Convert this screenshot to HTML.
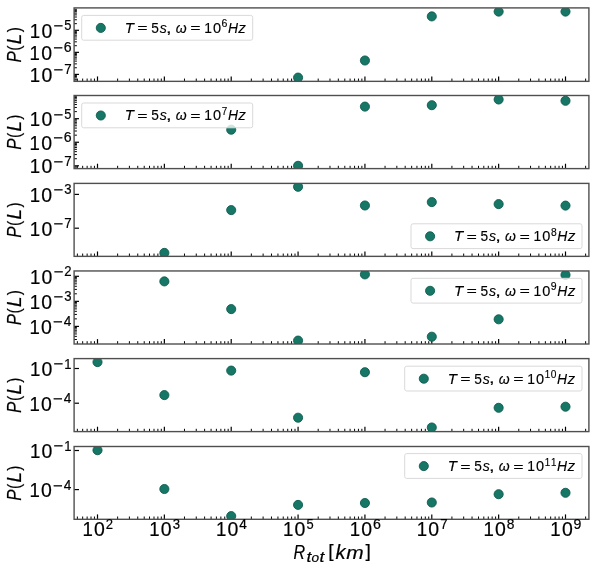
<!DOCTYPE html>
<html><head><meta charset="utf-8"><title>P(L) vs R_tot</title>
<style>
html,body{margin:0;padding:0;background:#fff;}
body{width:598px;height:570px;overflow:hidden;}
svg{display:block;}
svg text{font-family:"Liberation Sans",sans-serif;}
</style></head><body>
<svg width="598" height="570" viewBox="0 0 598 570">
<rect width="598" height="570" fill="#fff"/>
<defs><clipPath id="c0"><rect x="74.10" y="7.90" width="514.80" height="73.45"/></clipPath><clipPath id="c1"><rect x="74.10" y="95.50" width="514.80" height="73.10"/></clipPath><clipPath id="c2"><rect x="74.10" y="183.40" width="514.80" height="72.96"/></clipPath><clipPath id="c3"><rect x="74.10" y="270.96" width="514.80" height="73.04"/></clipPath><clipPath id="c4"><rect x="74.10" y="358.60" width="514.80" height="73.00"/></clipPath><clipPath id="c5"><rect x="74.10" y="446.50" width="514.80" height="72.80"/></clipPath><filter id="soft" filterUnits="userSpaceOnUse" x="0" y="0" width="598" height="570"><feGaussianBlur stdDeviation="0.45"/></filter></defs>
<g filter="url(#soft)">
<g stroke="#000"><line x1="77.37" y1="81.35" x2="77.37" y2="78.55" stroke-width="1.00"/><line x1="82.67" y1="81.35" x2="82.67" y2="78.55" stroke-width="1.00"/><line x1="87.14" y1="81.35" x2="87.14" y2="78.55" stroke-width="1.00"/><line x1="91.02" y1="81.35" x2="91.02" y2="78.55" stroke-width="1.00"/><line x1="94.44" y1="81.35" x2="94.44" y2="78.55" stroke-width="1.00"/><line x1="97.50" y1="81.35" x2="97.50" y2="76.45" stroke-width="1.20"/><line x1="117.63" y1="81.35" x2="117.63" y2="78.55" stroke-width="1.00"/><line x1="129.40" y1="81.35" x2="129.40" y2="78.55" stroke-width="1.00"/><line x1="137.75" y1="81.35" x2="137.75" y2="78.55" stroke-width="1.00"/><line x1="144.23" y1="81.35" x2="144.23" y2="78.55" stroke-width="1.00"/><line x1="149.52" y1="81.35" x2="149.52" y2="78.55" stroke-width="1.00"/><line x1="154.00" y1="81.35" x2="154.00" y2="78.55" stroke-width="1.00"/><line x1="157.88" y1="81.35" x2="157.88" y2="78.55" stroke-width="1.00"/><line x1="161.30" y1="81.35" x2="161.30" y2="78.55" stroke-width="1.00"/><line x1="164.36" y1="81.35" x2="164.36" y2="76.45" stroke-width="1.20"/><line x1="184.48" y1="81.35" x2="184.48" y2="78.55" stroke-width="1.00"/><line x1="196.26" y1="81.35" x2="196.26" y2="78.55" stroke-width="1.00"/><line x1="204.61" y1="81.35" x2="204.61" y2="78.55" stroke-width="1.00"/><line x1="211.09" y1="81.35" x2="211.09" y2="78.55" stroke-width="1.00"/><line x1="216.38" y1="81.35" x2="216.38" y2="78.55" stroke-width="1.00"/><line x1="220.86" y1="81.35" x2="220.86" y2="78.55" stroke-width="1.00"/><line x1="224.74" y1="81.35" x2="224.74" y2="78.55" stroke-width="1.00"/><line x1="228.16" y1="81.35" x2="228.16" y2="78.55" stroke-width="1.00"/><line x1="231.21" y1="81.35" x2="231.21" y2="76.45" stroke-width="1.20"/><line x1="251.34" y1="81.35" x2="251.34" y2="78.55" stroke-width="1.00"/><line x1="263.11" y1="81.35" x2="263.11" y2="78.55" stroke-width="1.00"/><line x1="271.47" y1="81.35" x2="271.47" y2="78.55" stroke-width="1.00"/><line x1="277.95" y1="81.35" x2="277.95" y2="78.55" stroke-width="1.00"/><line x1="283.24" y1="81.35" x2="283.24" y2="78.55" stroke-width="1.00"/><line x1="287.72" y1="81.35" x2="287.72" y2="78.55" stroke-width="1.00"/><line x1="291.59" y1="81.35" x2="291.59" y2="78.55" stroke-width="1.00"/><line x1="295.01" y1="81.35" x2="295.01" y2="78.55" stroke-width="1.00"/><line x1="298.07" y1="81.35" x2="298.07" y2="76.45" stroke-width="1.20"/><line x1="318.20" y1="81.35" x2="318.20" y2="78.55" stroke-width="1.00"/><line x1="329.97" y1="81.35" x2="329.97" y2="78.55" stroke-width="1.00"/><line x1="338.32" y1="81.35" x2="338.32" y2="78.55" stroke-width="1.00"/><line x1="344.80" y1="81.35" x2="344.80" y2="78.55" stroke-width="1.00"/><line x1="350.10" y1="81.35" x2="350.10" y2="78.55" stroke-width="1.00"/><line x1="354.57" y1="81.35" x2="354.57" y2="78.55" stroke-width="1.00"/><line x1="358.45" y1="81.35" x2="358.45" y2="78.55" stroke-width="1.00"/><line x1="361.87" y1="81.35" x2="361.87" y2="78.55" stroke-width="1.00"/><line x1="364.93" y1="81.35" x2="364.93" y2="76.45" stroke-width="1.20"/><line x1="385.05" y1="81.35" x2="385.05" y2="78.55" stroke-width="1.00"/><line x1="396.83" y1="81.35" x2="396.83" y2="78.55" stroke-width="1.00"/><line x1="405.18" y1="81.35" x2="405.18" y2="78.55" stroke-width="1.00"/><line x1="411.66" y1="81.35" x2="411.66" y2="78.55" stroke-width="1.00"/><line x1="416.95" y1="81.35" x2="416.95" y2="78.55" stroke-width="1.00"/><line x1="421.43" y1="81.35" x2="421.43" y2="78.55" stroke-width="1.00"/><line x1="425.31" y1="81.35" x2="425.31" y2="78.55" stroke-width="1.00"/><line x1="428.73" y1="81.35" x2="428.73" y2="78.55" stroke-width="1.00"/><line x1="431.79" y1="81.35" x2="431.79" y2="76.45" stroke-width="1.20"/><line x1="451.91" y1="81.35" x2="451.91" y2="78.55" stroke-width="1.00"/><line x1="463.68" y1="81.35" x2="463.68" y2="78.55" stroke-width="1.00"/><line x1="472.04" y1="81.35" x2="472.04" y2="78.55" stroke-width="1.00"/><line x1="478.52" y1="81.35" x2="478.52" y2="78.55" stroke-width="1.00"/><line x1="483.81" y1="81.35" x2="483.81" y2="78.55" stroke-width="1.00"/><line x1="488.29" y1="81.35" x2="488.29" y2="78.55" stroke-width="1.00"/><line x1="492.16" y1="81.35" x2="492.16" y2="78.55" stroke-width="1.00"/><line x1="495.58" y1="81.35" x2="495.58" y2="78.55" stroke-width="1.00"/><line x1="498.64" y1="81.35" x2="498.64" y2="76.45" stroke-width="1.20"/><line x1="518.77" y1="81.35" x2="518.77" y2="78.55" stroke-width="1.00"/><line x1="530.54" y1="81.35" x2="530.54" y2="78.55" stroke-width="1.00"/><line x1="538.89" y1="81.35" x2="538.89" y2="78.55" stroke-width="1.00"/><line x1="545.37" y1="81.35" x2="545.37" y2="78.55" stroke-width="1.00"/><line x1="550.67" y1="81.35" x2="550.67" y2="78.55" stroke-width="1.00"/><line x1="555.14" y1="81.35" x2="555.14" y2="78.55" stroke-width="1.00"/><line x1="559.02" y1="81.35" x2="559.02" y2="78.55" stroke-width="1.00"/><line x1="562.44" y1="81.35" x2="562.44" y2="78.55" stroke-width="1.00"/><line x1="565.50" y1="81.35" x2="565.50" y2="76.45" stroke-width="1.20"/><line x1="585.63" y1="81.35" x2="585.63" y2="78.55" stroke-width="1.00"/><line x1="74.10" y1="30.30" x2="79.00" y2="30.30" stroke-width="1.20"/><line x1="74.10" y1="52.35" x2="79.00" y2="52.35" stroke-width="1.20"/><line x1="74.10" y1="74.40" x2="79.00" y2="74.40" stroke-width="1.20"/><line x1="74.10" y1="81.04" x2="76.90" y2="81.04" stroke-width="1.00"/><line x1="74.10" y1="79.29" x2="76.90" y2="79.29" stroke-width="1.00"/><line x1="74.10" y1="77.82" x2="76.90" y2="77.82" stroke-width="1.00"/><line x1="74.10" y1="76.54" x2="76.90" y2="76.54" stroke-width="1.00"/><line x1="74.10" y1="75.41" x2="76.90" y2="75.41" stroke-width="1.00"/><line x1="74.10" y1="67.76" x2="76.90" y2="67.76" stroke-width="1.00"/><line x1="74.10" y1="63.88" x2="76.90" y2="63.88" stroke-width="1.00"/><line x1="74.10" y1="61.12" x2="76.90" y2="61.12" stroke-width="1.00"/><line x1="74.10" y1="58.99" x2="76.90" y2="58.99" stroke-width="1.00"/><line x1="74.10" y1="57.24" x2="76.90" y2="57.24" stroke-width="1.00"/><line x1="74.10" y1="55.77" x2="76.90" y2="55.77" stroke-width="1.00"/><line x1="74.10" y1="54.49" x2="76.90" y2="54.49" stroke-width="1.00"/><line x1="74.10" y1="53.36" x2="76.90" y2="53.36" stroke-width="1.00"/><line x1="74.10" y1="45.71" x2="76.90" y2="45.71" stroke-width="1.00"/><line x1="74.10" y1="41.83" x2="76.90" y2="41.83" stroke-width="1.00"/><line x1="74.10" y1="39.07" x2="76.90" y2="39.07" stroke-width="1.00"/><line x1="74.10" y1="36.94" x2="76.90" y2="36.94" stroke-width="1.00"/><line x1="74.10" y1="35.19" x2="76.90" y2="35.19" stroke-width="1.00"/><line x1="74.10" y1="33.72" x2="76.90" y2="33.72" stroke-width="1.00"/><line x1="74.10" y1="32.44" x2="76.90" y2="32.44" stroke-width="1.00"/><line x1="74.10" y1="31.31" x2="76.90" y2="31.31" stroke-width="1.00"/><line x1="74.10" y1="23.66" x2="76.90" y2="23.66" stroke-width="1.00"/><line x1="74.10" y1="19.78" x2="76.90" y2="19.78" stroke-width="1.00"/><line x1="74.10" y1="17.02" x2="76.90" y2="17.02" stroke-width="1.00"/><line x1="74.10" y1="14.89" x2="76.90" y2="14.89" stroke-width="1.00"/><line x1="74.10" y1="13.14" x2="76.90" y2="13.14" stroke-width="1.00"/><line x1="74.10" y1="11.67" x2="76.90" y2="11.67" stroke-width="1.00"/><line x1="74.10" y1="10.39" x2="76.90" y2="10.39" stroke-width="1.00"/><line x1="74.10" y1="9.26" x2="76.90" y2="9.26" stroke-width="1.00"/></g>
<g clip-path="url(#c0)" fill="#157766" stroke="#0e5b4f" stroke-width="0.9">
<circle cx="298.07" cy="77.60" r="4.55"/>
<circle cx="364.93" cy="60.50" r="4.55"/>
<circle cx="431.79" cy="16.40" r="4.55"/>
<circle cx="498.64" cy="11.60" r="4.55"/>
<circle cx="565.50" cy="11.60" r="4.55"/>
</g>
<rect x="74.10" y="7.90" width="514.80" height="73.45" fill="none" stroke="#505050" stroke-width="1.40"/>
<g transform="translate(29.22 37.60)" fill="#000" stroke="#000" stroke-width="0.20" stroke-linejoin="round"><text transform="translate(0.61 0.00) scale(0.9498 0.9996)" font-size="19.61">1</text><text transform="translate(12.23 0.07) scale(0.9945 1.0078)" font-size="19.61">0</text><text transform="translate(24.27 -6.32) scale(1.2155 1.0985)" font-size="13.73">−</text><text transform="translate(35.06 -7.22) scale(0.9385 1.0048)" font-size="13.73">5</text></g>
<g transform="translate(28.90 59.65)" fill="#000" stroke="#000" stroke-width="0.20" stroke-linejoin="round"><text transform="translate(0.61 0.00) scale(0.9498 0.9996)" font-size="19.61">1</text><text transform="translate(12.23 0.07) scale(0.9945 1.0078)" font-size="19.61">0</text><text transform="translate(24.27 -6.32) scale(1.2155 1.0985)" font-size="13.73">−</text><text transform="translate(34.76 -7.23) scale(1.0293 1.0078)" font-size="13.73">6</text></g>
<g transform="translate(29.19 81.70)" fill="#000" stroke="#000" stroke-width="0.20" stroke-linejoin="round"><text transform="translate(0.61 0.00) scale(0.9498 0.9996)" font-size="19.61">1</text><text transform="translate(12.23 0.07) scale(0.9945 1.0078)" font-size="19.61">0</text><text transform="translate(24.27 -6.32) scale(1.2155 1.0985)" font-size="13.73">−</text><text transform="translate(34.95 -7.27) scale(0.9728 0.9996)" font-size="13.73">7</text></g>
<g transform="translate(21.20 62.43) rotate(-90)" fill="#000" stroke="#000" stroke-width="0.20" stroke-linejoin="round"><text transform="translate(-0.02 0.00) scale(0.8600 0.9996)" font-size="19.61" font-style="italic">P</text><text transform="translate(11.78 -1.22) scale(0.7975 0.9019)" font-size="19.61">(</text><text transform="translate(18.28 0.00) scale(0.9737 0.9996)" font-size="19.61" font-style="italic">L</text><text transform="translate(30.07 -1.22) scale(0.7975 0.9019)" font-size="19.61">)</text></g>
<rect x="81.70" y="15.40" width="171.00" height="24.80" rx="2.0" ry="2.0" fill="#fff" fill-opacity="0.8" stroke="#d9d9d9" stroke-width="1.0"/>
<circle cx="100.80" cy="27.90" r="4.55" fill="#157766" stroke="#0e5b4f" stroke-width="0.9"/>
<g transform="translate(125.50 32.80)" fill="#000" stroke="#000" stroke-width="0.15" stroke-linejoin="round"><text transform="translate(-0.76 0.00) scale(1.0292 0.9996)" font-size="14.63" font-style="italic">T</text><text transform="translate(11.67 -0.34) scale(1.2155 0.8262)" font-size="14.63">=</text><text transform="translate(25.79 0.05) scale(0.9385 1.0048)" font-size="14.63">5</text><text transform="translate(34.15 0.05) scale(0.9666 0.9915)" font-size="14.63" font-style="italic">s</text><text transform="translate(40.45 -0.20) scale(1.3752 0.9650)" font-size="14.63">,</text><text transform="translate(50.24 0.06) scale(0.9544 0.9652)" font-size="14.63" font-style="italic">ω</text><text transform="translate(64.72 -0.34) scale(1.2155 0.8262)" font-size="14.63">=</text><text transform="translate(78.78 0.00) scale(0.9498 0.9996)" font-size="14.63">1</text><text transform="translate(87.41 0.05) scale(0.9945 1.0078)" font-size="14.63">0</text><text transform="translate(96.09 -5.32) scale(1.0293 1.0078)" font-size="10.24">6</text><text transform="translate(102.40 0.00) scale(0.9514 0.9996)" font-size="14.63" font-style="italic">H</text><text transform="translate(112.85 0.00) scale(1.0463 0.9765)" font-size="14.63" font-style="italic">z</text></g>
<g stroke="#000"><line x1="77.37" y1="168.60" x2="77.37" y2="165.80" stroke-width="1.00"/><line x1="82.67" y1="168.60" x2="82.67" y2="165.80" stroke-width="1.00"/><line x1="87.14" y1="168.60" x2="87.14" y2="165.80" stroke-width="1.00"/><line x1="91.02" y1="168.60" x2="91.02" y2="165.80" stroke-width="1.00"/><line x1="94.44" y1="168.60" x2="94.44" y2="165.80" stroke-width="1.00"/><line x1="97.50" y1="168.60" x2="97.50" y2="163.70" stroke-width="1.20"/><line x1="117.63" y1="168.60" x2="117.63" y2="165.80" stroke-width="1.00"/><line x1="129.40" y1="168.60" x2="129.40" y2="165.80" stroke-width="1.00"/><line x1="137.75" y1="168.60" x2="137.75" y2="165.80" stroke-width="1.00"/><line x1="144.23" y1="168.60" x2="144.23" y2="165.80" stroke-width="1.00"/><line x1="149.52" y1="168.60" x2="149.52" y2="165.80" stroke-width="1.00"/><line x1="154.00" y1="168.60" x2="154.00" y2="165.80" stroke-width="1.00"/><line x1="157.88" y1="168.60" x2="157.88" y2="165.80" stroke-width="1.00"/><line x1="161.30" y1="168.60" x2="161.30" y2="165.80" stroke-width="1.00"/><line x1="164.36" y1="168.60" x2="164.36" y2="163.70" stroke-width="1.20"/><line x1="184.48" y1="168.60" x2="184.48" y2="165.80" stroke-width="1.00"/><line x1="196.26" y1="168.60" x2="196.26" y2="165.80" stroke-width="1.00"/><line x1="204.61" y1="168.60" x2="204.61" y2="165.80" stroke-width="1.00"/><line x1="211.09" y1="168.60" x2="211.09" y2="165.80" stroke-width="1.00"/><line x1="216.38" y1="168.60" x2="216.38" y2="165.80" stroke-width="1.00"/><line x1="220.86" y1="168.60" x2="220.86" y2="165.80" stroke-width="1.00"/><line x1="224.74" y1="168.60" x2="224.74" y2="165.80" stroke-width="1.00"/><line x1="228.16" y1="168.60" x2="228.16" y2="165.80" stroke-width="1.00"/><line x1="231.21" y1="168.60" x2="231.21" y2="163.70" stroke-width="1.20"/><line x1="251.34" y1="168.60" x2="251.34" y2="165.80" stroke-width="1.00"/><line x1="263.11" y1="168.60" x2="263.11" y2="165.80" stroke-width="1.00"/><line x1="271.47" y1="168.60" x2="271.47" y2="165.80" stroke-width="1.00"/><line x1="277.95" y1="168.60" x2="277.95" y2="165.80" stroke-width="1.00"/><line x1="283.24" y1="168.60" x2="283.24" y2="165.80" stroke-width="1.00"/><line x1="287.72" y1="168.60" x2="287.72" y2="165.80" stroke-width="1.00"/><line x1="291.59" y1="168.60" x2="291.59" y2="165.80" stroke-width="1.00"/><line x1="295.01" y1="168.60" x2="295.01" y2="165.80" stroke-width="1.00"/><line x1="298.07" y1="168.60" x2="298.07" y2="163.70" stroke-width="1.20"/><line x1="318.20" y1="168.60" x2="318.20" y2="165.80" stroke-width="1.00"/><line x1="329.97" y1="168.60" x2="329.97" y2="165.80" stroke-width="1.00"/><line x1="338.32" y1="168.60" x2="338.32" y2="165.80" stroke-width="1.00"/><line x1="344.80" y1="168.60" x2="344.80" y2="165.80" stroke-width="1.00"/><line x1="350.10" y1="168.60" x2="350.10" y2="165.80" stroke-width="1.00"/><line x1="354.57" y1="168.60" x2="354.57" y2="165.80" stroke-width="1.00"/><line x1="358.45" y1="168.60" x2="358.45" y2="165.80" stroke-width="1.00"/><line x1="361.87" y1="168.60" x2="361.87" y2="165.80" stroke-width="1.00"/><line x1="364.93" y1="168.60" x2="364.93" y2="163.70" stroke-width="1.20"/><line x1="385.05" y1="168.60" x2="385.05" y2="165.80" stroke-width="1.00"/><line x1="396.83" y1="168.60" x2="396.83" y2="165.80" stroke-width="1.00"/><line x1="405.18" y1="168.60" x2="405.18" y2="165.80" stroke-width="1.00"/><line x1="411.66" y1="168.60" x2="411.66" y2="165.80" stroke-width="1.00"/><line x1="416.95" y1="168.60" x2="416.95" y2="165.80" stroke-width="1.00"/><line x1="421.43" y1="168.60" x2="421.43" y2="165.80" stroke-width="1.00"/><line x1="425.31" y1="168.60" x2="425.31" y2="165.80" stroke-width="1.00"/><line x1="428.73" y1="168.60" x2="428.73" y2="165.80" stroke-width="1.00"/><line x1="431.79" y1="168.60" x2="431.79" y2="163.70" stroke-width="1.20"/><line x1="451.91" y1="168.60" x2="451.91" y2="165.80" stroke-width="1.00"/><line x1="463.68" y1="168.60" x2="463.68" y2="165.80" stroke-width="1.00"/><line x1="472.04" y1="168.60" x2="472.04" y2="165.80" stroke-width="1.00"/><line x1="478.52" y1="168.60" x2="478.52" y2="165.80" stroke-width="1.00"/><line x1="483.81" y1="168.60" x2="483.81" y2="165.80" stroke-width="1.00"/><line x1="488.29" y1="168.60" x2="488.29" y2="165.80" stroke-width="1.00"/><line x1="492.16" y1="168.60" x2="492.16" y2="165.80" stroke-width="1.00"/><line x1="495.58" y1="168.60" x2="495.58" y2="165.80" stroke-width="1.00"/><line x1="498.64" y1="168.60" x2="498.64" y2="163.70" stroke-width="1.20"/><line x1="518.77" y1="168.60" x2="518.77" y2="165.80" stroke-width="1.00"/><line x1="530.54" y1="168.60" x2="530.54" y2="165.80" stroke-width="1.00"/><line x1="538.89" y1="168.60" x2="538.89" y2="165.80" stroke-width="1.00"/><line x1="545.37" y1="168.60" x2="545.37" y2="165.80" stroke-width="1.00"/><line x1="550.67" y1="168.60" x2="550.67" y2="165.80" stroke-width="1.00"/><line x1="555.14" y1="168.60" x2="555.14" y2="165.80" stroke-width="1.00"/><line x1="559.02" y1="168.60" x2="559.02" y2="165.80" stroke-width="1.00"/><line x1="562.44" y1="168.60" x2="562.44" y2="165.80" stroke-width="1.00"/><line x1="565.50" y1="168.60" x2="565.50" y2="163.70" stroke-width="1.20"/><line x1="585.63" y1="168.60" x2="585.63" y2="165.80" stroke-width="1.00"/><line x1="74.10" y1="118.70" x2="79.00" y2="118.70" stroke-width="1.20"/><line x1="74.10" y1="142.25" x2="79.00" y2="142.25" stroke-width="1.20"/><line x1="74.10" y1="165.80" x2="79.00" y2="165.80" stroke-width="1.20"/><line x1="74.10" y1="168.08" x2="76.90" y2="168.08" stroke-width="1.00"/><line x1="74.10" y1="166.88" x2="76.90" y2="166.88" stroke-width="1.00"/><line x1="74.10" y1="158.71" x2="76.90" y2="158.71" stroke-width="1.00"/><line x1="74.10" y1="154.56" x2="76.90" y2="154.56" stroke-width="1.00"/><line x1="74.10" y1="151.62" x2="76.90" y2="151.62" stroke-width="1.00"/><line x1="74.10" y1="149.34" x2="76.90" y2="149.34" stroke-width="1.00"/><line x1="74.10" y1="147.47" x2="76.90" y2="147.47" stroke-width="1.00"/><line x1="74.10" y1="145.90" x2="76.90" y2="145.90" stroke-width="1.00"/><line x1="74.10" y1="144.53" x2="76.90" y2="144.53" stroke-width="1.00"/><line x1="74.10" y1="143.33" x2="76.90" y2="143.33" stroke-width="1.00"/><line x1="74.10" y1="135.16" x2="76.90" y2="135.16" stroke-width="1.00"/><line x1="74.10" y1="131.01" x2="76.90" y2="131.01" stroke-width="1.00"/><line x1="74.10" y1="128.07" x2="76.90" y2="128.07" stroke-width="1.00"/><line x1="74.10" y1="125.79" x2="76.90" y2="125.79" stroke-width="1.00"/><line x1="74.10" y1="123.92" x2="76.90" y2="123.92" stroke-width="1.00"/><line x1="74.10" y1="122.35" x2="76.90" y2="122.35" stroke-width="1.00"/><line x1="74.10" y1="120.98" x2="76.90" y2="120.98" stroke-width="1.00"/><line x1="74.10" y1="119.78" x2="76.90" y2="119.78" stroke-width="1.00"/><line x1="74.10" y1="111.61" x2="76.90" y2="111.61" stroke-width="1.00"/><line x1="74.10" y1="107.46" x2="76.90" y2="107.46" stroke-width="1.00"/><line x1="74.10" y1="104.52" x2="76.90" y2="104.52" stroke-width="1.00"/><line x1="74.10" y1="102.24" x2="76.90" y2="102.24" stroke-width="1.00"/><line x1="74.10" y1="100.37" x2="76.90" y2="100.37" stroke-width="1.00"/><line x1="74.10" y1="98.80" x2="76.90" y2="98.80" stroke-width="1.00"/><line x1="74.10" y1="97.43" x2="76.90" y2="97.43" stroke-width="1.00"/><line x1="74.10" y1="96.23" x2="76.90" y2="96.23" stroke-width="1.00"/></g>
<g clip-path="url(#c1)" fill="#157766" stroke="#0e5b4f" stroke-width="0.9">
<circle cx="231.21" cy="129.70" r="4.55"/>
<circle cx="298.07" cy="165.80" r="4.55"/>
<circle cx="364.93" cy="106.60" r="4.55"/>
<circle cx="431.79" cy="105.20" r="4.55"/>
<circle cx="498.64" cy="99.50" r="4.55"/>
<circle cx="565.50" cy="100.80" r="4.55"/>
</g>
<rect x="74.10" y="95.50" width="514.80" height="73.10" fill="none" stroke="#505050" stroke-width="1.40"/>
<g transform="translate(29.22 126.00)" fill="#000" stroke="#000" stroke-width="0.20" stroke-linejoin="round"><text transform="translate(0.61 0.00) scale(0.9498 0.9996)" font-size="19.61">1</text><text transform="translate(12.23 0.07) scale(0.9945 1.0078)" font-size="19.61">0</text><text transform="translate(24.27 -6.32) scale(1.2155 1.0985)" font-size="13.73">−</text><text transform="translate(35.06 -7.22) scale(0.9385 1.0048)" font-size="13.73">5</text></g>
<g transform="translate(28.90 149.55)" fill="#000" stroke="#000" stroke-width="0.20" stroke-linejoin="round"><text transform="translate(0.61 0.00) scale(0.9498 0.9996)" font-size="19.61">1</text><text transform="translate(12.23 0.07) scale(0.9945 1.0078)" font-size="19.61">0</text><text transform="translate(24.27 -6.32) scale(1.2155 1.0985)" font-size="13.73">−</text><text transform="translate(34.76 -7.23) scale(1.0293 1.0078)" font-size="13.73">6</text></g>
<g transform="translate(29.19 173.10)" fill="#000" stroke="#000" stroke-width="0.20" stroke-linejoin="round"><text transform="translate(0.61 0.00) scale(0.9498 0.9996)" font-size="19.61">1</text><text transform="translate(12.23 0.07) scale(0.9945 1.0078)" font-size="19.61">0</text><text transform="translate(24.27 -6.32) scale(1.2155 1.0985)" font-size="13.73">−</text><text transform="translate(34.95 -7.27) scale(0.9728 0.9996)" font-size="13.73">7</text></g>
<g transform="translate(21.20 149.85) rotate(-90)" fill="#000" stroke="#000" stroke-width="0.20" stroke-linejoin="round"><text transform="translate(-0.02 0.00) scale(0.8600 0.9996)" font-size="19.61" font-style="italic">P</text><text transform="translate(11.78 -1.22) scale(0.7975 0.9019)" font-size="19.61">(</text><text transform="translate(18.28 0.00) scale(0.9737 0.9996)" font-size="19.61" font-style="italic">L</text><text transform="translate(30.07 -1.22) scale(0.7975 0.9019)" font-size="19.61">)</text></g>
<rect x="81.70" y="103.00" width="171.00" height="24.80" rx="2.0" ry="2.0" fill="#fff" fill-opacity="0.8" stroke="#d9d9d9" stroke-width="1.0"/>
<circle cx="100.80" cy="115.50" r="4.55" fill="#157766" stroke="#0e5b4f" stroke-width="0.9"/>
<g transform="translate(125.50 120.40)" fill="#000" stroke="#000" stroke-width="0.15" stroke-linejoin="round"><text transform="translate(-0.76 0.00) scale(1.0292 0.9996)" font-size="14.63" font-style="italic">T</text><text transform="translate(11.67 -0.34) scale(1.2155 0.8262)" font-size="14.63">=</text><text transform="translate(25.79 0.05) scale(0.9385 1.0048)" font-size="14.63">5</text><text transform="translate(34.15 0.05) scale(0.9666 0.9915)" font-size="14.63" font-style="italic">s</text><text transform="translate(40.45 -0.20) scale(1.3752 0.9650)" font-size="14.63">,</text><text transform="translate(50.24 0.06) scale(0.9544 0.9652)" font-size="14.63" font-style="italic">ω</text><text transform="translate(64.72 -0.34) scale(1.2155 0.8262)" font-size="14.63">=</text><text transform="translate(78.78 0.00) scale(0.9498 0.9996)" font-size="14.63">1</text><text transform="translate(87.41 0.05) scale(0.9945 1.0078)" font-size="14.63">0</text><text transform="translate(96.24 -5.36) scale(0.9728 0.9996)" font-size="10.24">7</text><text transform="translate(102.40 0.00) scale(0.9514 0.9996)" font-size="14.63" font-style="italic">H</text><text transform="translate(112.85 0.00) scale(1.0463 0.9765)" font-size="14.63" font-style="italic">z</text></g>
<g stroke="#000"><line x1="77.37" y1="256.36" x2="77.37" y2="253.56" stroke-width="1.00"/><line x1="82.67" y1="256.36" x2="82.67" y2="253.56" stroke-width="1.00"/><line x1="87.14" y1="256.36" x2="87.14" y2="253.56" stroke-width="1.00"/><line x1="91.02" y1="256.36" x2="91.02" y2="253.56" stroke-width="1.00"/><line x1="94.44" y1="256.36" x2="94.44" y2="253.56" stroke-width="1.00"/><line x1="97.50" y1="256.36" x2="97.50" y2="251.46" stroke-width="1.20"/><line x1="117.63" y1="256.36" x2="117.63" y2="253.56" stroke-width="1.00"/><line x1="129.40" y1="256.36" x2="129.40" y2="253.56" stroke-width="1.00"/><line x1="137.75" y1="256.36" x2="137.75" y2="253.56" stroke-width="1.00"/><line x1="144.23" y1="256.36" x2="144.23" y2="253.56" stroke-width="1.00"/><line x1="149.52" y1="256.36" x2="149.52" y2="253.56" stroke-width="1.00"/><line x1="154.00" y1="256.36" x2="154.00" y2="253.56" stroke-width="1.00"/><line x1="157.88" y1="256.36" x2="157.88" y2="253.56" stroke-width="1.00"/><line x1="161.30" y1="256.36" x2="161.30" y2="253.56" stroke-width="1.00"/><line x1="164.36" y1="256.36" x2="164.36" y2="251.46" stroke-width="1.20"/><line x1="184.48" y1="256.36" x2="184.48" y2="253.56" stroke-width="1.00"/><line x1="196.26" y1="256.36" x2="196.26" y2="253.56" stroke-width="1.00"/><line x1="204.61" y1="256.36" x2="204.61" y2="253.56" stroke-width="1.00"/><line x1="211.09" y1="256.36" x2="211.09" y2="253.56" stroke-width="1.00"/><line x1="216.38" y1="256.36" x2="216.38" y2="253.56" stroke-width="1.00"/><line x1="220.86" y1="256.36" x2="220.86" y2="253.56" stroke-width="1.00"/><line x1="224.74" y1="256.36" x2="224.74" y2="253.56" stroke-width="1.00"/><line x1="228.16" y1="256.36" x2="228.16" y2="253.56" stroke-width="1.00"/><line x1="231.21" y1="256.36" x2="231.21" y2="251.46" stroke-width="1.20"/><line x1="251.34" y1="256.36" x2="251.34" y2="253.56" stroke-width="1.00"/><line x1="263.11" y1="256.36" x2="263.11" y2="253.56" stroke-width="1.00"/><line x1="271.47" y1="256.36" x2="271.47" y2="253.56" stroke-width="1.00"/><line x1="277.95" y1="256.36" x2="277.95" y2="253.56" stroke-width="1.00"/><line x1="283.24" y1="256.36" x2="283.24" y2="253.56" stroke-width="1.00"/><line x1="287.72" y1="256.36" x2="287.72" y2="253.56" stroke-width="1.00"/><line x1="291.59" y1="256.36" x2="291.59" y2="253.56" stroke-width="1.00"/><line x1="295.01" y1="256.36" x2="295.01" y2="253.56" stroke-width="1.00"/><line x1="298.07" y1="256.36" x2="298.07" y2="251.46" stroke-width="1.20"/><line x1="318.20" y1="256.36" x2="318.20" y2="253.56" stroke-width="1.00"/><line x1="329.97" y1="256.36" x2="329.97" y2="253.56" stroke-width="1.00"/><line x1="338.32" y1="256.36" x2="338.32" y2="253.56" stroke-width="1.00"/><line x1="344.80" y1="256.36" x2="344.80" y2="253.56" stroke-width="1.00"/><line x1="350.10" y1="256.36" x2="350.10" y2="253.56" stroke-width="1.00"/><line x1="354.57" y1="256.36" x2="354.57" y2="253.56" stroke-width="1.00"/><line x1="358.45" y1="256.36" x2="358.45" y2="253.56" stroke-width="1.00"/><line x1="361.87" y1="256.36" x2="361.87" y2="253.56" stroke-width="1.00"/><line x1="364.93" y1="256.36" x2="364.93" y2="251.46" stroke-width="1.20"/><line x1="385.05" y1="256.36" x2="385.05" y2="253.56" stroke-width="1.00"/><line x1="396.83" y1="256.36" x2="396.83" y2="253.56" stroke-width="1.00"/><line x1="405.18" y1="256.36" x2="405.18" y2="253.56" stroke-width="1.00"/><line x1="411.66" y1="256.36" x2="411.66" y2="253.56" stroke-width="1.00"/><line x1="416.95" y1="256.36" x2="416.95" y2="253.56" stroke-width="1.00"/><line x1="421.43" y1="256.36" x2="421.43" y2="253.56" stroke-width="1.00"/><line x1="425.31" y1="256.36" x2="425.31" y2="253.56" stroke-width="1.00"/><line x1="428.73" y1="256.36" x2="428.73" y2="253.56" stroke-width="1.00"/><line x1="431.79" y1="256.36" x2="431.79" y2="251.46" stroke-width="1.20"/><line x1="451.91" y1="256.36" x2="451.91" y2="253.56" stroke-width="1.00"/><line x1="463.68" y1="256.36" x2="463.68" y2="253.56" stroke-width="1.00"/><line x1="472.04" y1="256.36" x2="472.04" y2="253.56" stroke-width="1.00"/><line x1="478.52" y1="256.36" x2="478.52" y2="253.56" stroke-width="1.00"/><line x1="483.81" y1="256.36" x2="483.81" y2="253.56" stroke-width="1.00"/><line x1="488.29" y1="256.36" x2="488.29" y2="253.56" stroke-width="1.00"/><line x1="492.16" y1="256.36" x2="492.16" y2="253.56" stroke-width="1.00"/><line x1="495.58" y1="256.36" x2="495.58" y2="253.56" stroke-width="1.00"/><line x1="498.64" y1="256.36" x2="498.64" y2="251.46" stroke-width="1.20"/><line x1="518.77" y1="256.36" x2="518.77" y2="253.56" stroke-width="1.00"/><line x1="530.54" y1="256.36" x2="530.54" y2="253.56" stroke-width="1.00"/><line x1="538.89" y1="256.36" x2="538.89" y2="253.56" stroke-width="1.00"/><line x1="545.37" y1="256.36" x2="545.37" y2="253.56" stroke-width="1.00"/><line x1="550.67" y1="256.36" x2="550.67" y2="253.56" stroke-width="1.00"/><line x1="555.14" y1="256.36" x2="555.14" y2="253.56" stroke-width="1.00"/><line x1="559.02" y1="256.36" x2="559.02" y2="253.56" stroke-width="1.00"/><line x1="562.44" y1="256.36" x2="562.44" y2="253.56" stroke-width="1.00"/><line x1="565.50" y1="256.36" x2="565.50" y2="251.46" stroke-width="1.20"/><line x1="585.63" y1="256.36" x2="585.63" y2="253.56" stroke-width="1.00"/><line x1="74.10" y1="194.40" x2="79.00" y2="194.40" stroke-width="1.20"/><line x1="74.10" y1="228.20" x2="79.00" y2="228.20" stroke-width="1.20"/></g>
<g clip-path="url(#c2)" fill="#157766" stroke="#0e5b4f" stroke-width="0.9">
<circle cx="164.36" cy="252.90" r="4.55"/>
<circle cx="231.21" cy="210.10" r="4.55"/>
<circle cx="298.07" cy="186.80" r="4.55"/>
<circle cx="364.93" cy="205.50" r="4.55"/>
<circle cx="431.79" cy="202.10" r="4.55"/>
<circle cx="498.64" cy="204.10" r="4.55"/>
<circle cx="565.50" cy="205.60" r="4.55"/>
</g>
<rect x="74.10" y="183.40" width="514.80" height="72.96" fill="none" stroke="#505050" stroke-width="1.40"/>
<g transform="translate(29.12 201.70)" fill="#000" stroke="#000" stroke-width="0.20" stroke-linejoin="round"><text transform="translate(0.61 0.00) scale(0.9498 0.9996)" font-size="19.61">1</text><text transform="translate(12.23 0.07) scale(0.9945 1.0078)" font-size="19.61">0</text><text transform="translate(24.27 -6.32) scale(1.2155 1.0985)" font-size="13.73">−</text><text transform="translate(35.06 -7.23) scale(0.9551 1.0078)" font-size="13.73">3</text></g>
<g transform="translate(29.19 235.50)" fill="#000" stroke="#000" stroke-width="0.20" stroke-linejoin="round"><text transform="translate(0.61 0.00) scale(0.9498 0.9996)" font-size="19.61">1</text><text transform="translate(12.23 0.07) scale(0.9945 1.0078)" font-size="19.61">0</text><text transform="translate(24.27 -6.32) scale(1.2155 1.0985)" font-size="13.73">−</text><text transform="translate(34.95 -7.27) scale(0.9728 0.9996)" font-size="13.73">7</text></g>
<g transform="translate(21.20 237.68) rotate(-90)" fill="#000" stroke="#000" stroke-width="0.20" stroke-linejoin="round"><text transform="translate(-0.02 0.00) scale(0.8600 0.9996)" font-size="19.61" font-style="italic">P</text><text transform="translate(11.78 -1.22) scale(0.7975 0.9019)" font-size="19.61">(</text><text transform="translate(18.28 0.00) scale(0.9737 0.9996)" font-size="19.61" font-style="italic">L</text><text transform="translate(30.07 -1.22) scale(0.7975 0.9019)" font-size="19.61">)</text></g>
<rect x="411.00" y="223.80" width="171.00" height="24.80" rx="2.0" ry="2.0" fill="#fff" fill-opacity="0.8" stroke="#d9d9d9" stroke-width="1.0"/>
<circle cx="430.10" cy="236.30" r="4.55" fill="#157766" stroke="#0e5b4f" stroke-width="0.9"/>
<g transform="translate(454.80 241.20)" fill="#000" stroke="#000" stroke-width="0.15" stroke-linejoin="round"><text transform="translate(-0.76 0.00) scale(1.0292 0.9996)" font-size="14.63" font-style="italic">T</text><text transform="translate(11.67 -0.34) scale(1.2155 0.8262)" font-size="14.63">=</text><text transform="translate(25.79 0.05) scale(0.9385 1.0048)" font-size="14.63">5</text><text transform="translate(34.15 0.05) scale(0.9666 0.9915)" font-size="14.63" font-style="italic">s</text><text transform="translate(40.45 -0.20) scale(1.3752 0.9650)" font-size="14.63">,</text><text transform="translate(50.24 0.06) scale(0.9544 0.9652)" font-size="14.63" font-style="italic">ω</text><text transform="translate(64.72 -0.34) scale(1.2155 0.8262)" font-size="14.63">=</text><text transform="translate(78.78 0.00) scale(0.9498 0.9996)" font-size="14.63">1</text><text transform="translate(87.41 0.05) scale(0.9945 1.0078)" font-size="14.63">0</text><text transform="translate(96.16 -5.32) scale(1.0052 1.0078)" font-size="10.24">8</text><text transform="translate(102.40 0.00) scale(0.9514 0.9996)" font-size="14.63" font-style="italic">H</text><text transform="translate(112.85 0.00) scale(1.0463 0.9765)" font-size="14.63" font-style="italic">z</text></g>
<g stroke="#000"><line x1="77.37" y1="344.00" x2="77.37" y2="341.20" stroke-width="1.00"/><line x1="82.67" y1="344.00" x2="82.67" y2="341.20" stroke-width="1.00"/><line x1="87.14" y1="344.00" x2="87.14" y2="341.20" stroke-width="1.00"/><line x1="91.02" y1="344.00" x2="91.02" y2="341.20" stroke-width="1.00"/><line x1="94.44" y1="344.00" x2="94.44" y2="341.20" stroke-width="1.00"/><line x1="97.50" y1="344.00" x2="97.50" y2="339.10" stroke-width="1.20"/><line x1="117.63" y1="344.00" x2="117.63" y2="341.20" stroke-width="1.00"/><line x1="129.40" y1="344.00" x2="129.40" y2="341.20" stroke-width="1.00"/><line x1="137.75" y1="344.00" x2="137.75" y2="341.20" stroke-width="1.00"/><line x1="144.23" y1="344.00" x2="144.23" y2="341.20" stroke-width="1.00"/><line x1="149.52" y1="344.00" x2="149.52" y2="341.20" stroke-width="1.00"/><line x1="154.00" y1="344.00" x2="154.00" y2="341.20" stroke-width="1.00"/><line x1="157.88" y1="344.00" x2="157.88" y2="341.20" stroke-width="1.00"/><line x1="161.30" y1="344.00" x2="161.30" y2="341.20" stroke-width="1.00"/><line x1="164.36" y1="344.00" x2="164.36" y2="339.10" stroke-width="1.20"/><line x1="184.48" y1="344.00" x2="184.48" y2="341.20" stroke-width="1.00"/><line x1="196.26" y1="344.00" x2="196.26" y2="341.20" stroke-width="1.00"/><line x1="204.61" y1="344.00" x2="204.61" y2="341.20" stroke-width="1.00"/><line x1="211.09" y1="344.00" x2="211.09" y2="341.20" stroke-width="1.00"/><line x1="216.38" y1="344.00" x2="216.38" y2="341.20" stroke-width="1.00"/><line x1="220.86" y1="344.00" x2="220.86" y2="341.20" stroke-width="1.00"/><line x1="224.74" y1="344.00" x2="224.74" y2="341.20" stroke-width="1.00"/><line x1="228.16" y1="344.00" x2="228.16" y2="341.20" stroke-width="1.00"/><line x1="231.21" y1="344.00" x2="231.21" y2="339.10" stroke-width="1.20"/><line x1="251.34" y1="344.00" x2="251.34" y2="341.20" stroke-width="1.00"/><line x1="263.11" y1="344.00" x2="263.11" y2="341.20" stroke-width="1.00"/><line x1="271.47" y1="344.00" x2="271.47" y2="341.20" stroke-width="1.00"/><line x1="277.95" y1="344.00" x2="277.95" y2="341.20" stroke-width="1.00"/><line x1="283.24" y1="344.00" x2="283.24" y2="341.20" stroke-width="1.00"/><line x1="287.72" y1="344.00" x2="287.72" y2="341.20" stroke-width="1.00"/><line x1="291.59" y1="344.00" x2="291.59" y2="341.20" stroke-width="1.00"/><line x1="295.01" y1="344.00" x2="295.01" y2="341.20" stroke-width="1.00"/><line x1="298.07" y1="344.00" x2="298.07" y2="339.10" stroke-width="1.20"/><line x1="318.20" y1="344.00" x2="318.20" y2="341.20" stroke-width="1.00"/><line x1="329.97" y1="344.00" x2="329.97" y2="341.20" stroke-width="1.00"/><line x1="338.32" y1="344.00" x2="338.32" y2="341.20" stroke-width="1.00"/><line x1="344.80" y1="344.00" x2="344.80" y2="341.20" stroke-width="1.00"/><line x1="350.10" y1="344.00" x2="350.10" y2="341.20" stroke-width="1.00"/><line x1="354.57" y1="344.00" x2="354.57" y2="341.20" stroke-width="1.00"/><line x1="358.45" y1="344.00" x2="358.45" y2="341.20" stroke-width="1.00"/><line x1="361.87" y1="344.00" x2="361.87" y2="341.20" stroke-width="1.00"/><line x1="364.93" y1="344.00" x2="364.93" y2="339.10" stroke-width="1.20"/><line x1="385.05" y1="344.00" x2="385.05" y2="341.20" stroke-width="1.00"/><line x1="396.83" y1="344.00" x2="396.83" y2="341.20" stroke-width="1.00"/><line x1="405.18" y1="344.00" x2="405.18" y2="341.20" stroke-width="1.00"/><line x1="411.66" y1="344.00" x2="411.66" y2="341.20" stroke-width="1.00"/><line x1="416.95" y1="344.00" x2="416.95" y2="341.20" stroke-width="1.00"/><line x1="421.43" y1="344.00" x2="421.43" y2="341.20" stroke-width="1.00"/><line x1="425.31" y1="344.00" x2="425.31" y2="341.20" stroke-width="1.00"/><line x1="428.73" y1="344.00" x2="428.73" y2="341.20" stroke-width="1.00"/><line x1="431.79" y1="344.00" x2="431.79" y2="339.10" stroke-width="1.20"/><line x1="451.91" y1="344.00" x2="451.91" y2="341.20" stroke-width="1.00"/><line x1="463.68" y1="344.00" x2="463.68" y2="341.20" stroke-width="1.00"/><line x1="472.04" y1="344.00" x2="472.04" y2="341.20" stroke-width="1.00"/><line x1="478.52" y1="344.00" x2="478.52" y2="341.20" stroke-width="1.00"/><line x1="483.81" y1="344.00" x2="483.81" y2="341.20" stroke-width="1.00"/><line x1="488.29" y1="344.00" x2="488.29" y2="341.20" stroke-width="1.00"/><line x1="492.16" y1="344.00" x2="492.16" y2="341.20" stroke-width="1.00"/><line x1="495.58" y1="344.00" x2="495.58" y2="341.20" stroke-width="1.00"/><line x1="498.64" y1="344.00" x2="498.64" y2="339.10" stroke-width="1.20"/><line x1="518.77" y1="344.00" x2="518.77" y2="341.20" stroke-width="1.00"/><line x1="530.54" y1="344.00" x2="530.54" y2="341.20" stroke-width="1.00"/><line x1="538.89" y1="344.00" x2="538.89" y2="341.20" stroke-width="1.00"/><line x1="545.37" y1="344.00" x2="545.37" y2="341.20" stroke-width="1.00"/><line x1="550.67" y1="344.00" x2="550.67" y2="341.20" stroke-width="1.00"/><line x1="555.14" y1="344.00" x2="555.14" y2="341.20" stroke-width="1.00"/><line x1="559.02" y1="344.00" x2="559.02" y2="341.20" stroke-width="1.00"/><line x1="562.44" y1="344.00" x2="562.44" y2="341.20" stroke-width="1.00"/><line x1="565.50" y1="344.00" x2="565.50" y2="339.10" stroke-width="1.20"/><line x1="585.63" y1="344.00" x2="585.63" y2="341.20" stroke-width="1.00"/><line x1="74.10" y1="276.30" x2="79.00" y2="276.30" stroke-width="1.20"/><line x1="74.10" y1="301.35" x2="79.00" y2="301.35" stroke-width="1.20"/><line x1="74.10" y1="326.40" x2="79.00" y2="326.40" stroke-width="1.20"/><line x1="74.10" y1="339.50" x2="76.90" y2="339.50" stroke-width="1.00"/><line x1="74.10" y1="336.37" x2="76.90" y2="336.37" stroke-width="1.00"/><line x1="74.10" y1="333.94" x2="76.90" y2="333.94" stroke-width="1.00"/><line x1="74.10" y1="331.96" x2="76.90" y2="331.96" stroke-width="1.00"/><line x1="74.10" y1="330.28" x2="76.90" y2="330.28" stroke-width="1.00"/><line x1="74.10" y1="328.83" x2="76.90" y2="328.83" stroke-width="1.00"/><line x1="74.10" y1="327.55" x2="76.90" y2="327.55" stroke-width="1.00"/><line x1="74.10" y1="318.86" x2="76.90" y2="318.86" stroke-width="1.00"/><line x1="74.10" y1="314.45" x2="76.90" y2="314.45" stroke-width="1.00"/><line x1="74.10" y1="311.32" x2="76.90" y2="311.32" stroke-width="1.00"/><line x1="74.10" y1="308.89" x2="76.90" y2="308.89" stroke-width="1.00"/><line x1="74.10" y1="306.91" x2="76.90" y2="306.91" stroke-width="1.00"/><line x1="74.10" y1="305.23" x2="76.90" y2="305.23" stroke-width="1.00"/><line x1="74.10" y1="303.78" x2="76.90" y2="303.78" stroke-width="1.00"/><line x1="74.10" y1="302.50" x2="76.90" y2="302.50" stroke-width="1.00"/><line x1="74.10" y1="293.81" x2="76.90" y2="293.81" stroke-width="1.00"/><line x1="74.10" y1="289.40" x2="76.90" y2="289.40" stroke-width="1.00"/><line x1="74.10" y1="286.27" x2="76.90" y2="286.27" stroke-width="1.00"/><line x1="74.10" y1="283.84" x2="76.90" y2="283.84" stroke-width="1.00"/><line x1="74.10" y1="281.86" x2="76.90" y2="281.86" stroke-width="1.00"/><line x1="74.10" y1="280.18" x2="76.90" y2="280.18" stroke-width="1.00"/><line x1="74.10" y1="278.73" x2="76.90" y2="278.73" stroke-width="1.00"/><line x1="74.10" y1="277.45" x2="76.90" y2="277.45" stroke-width="1.00"/></g>
<g clip-path="url(#c3)" fill="#157766" stroke="#0e5b4f" stroke-width="0.9">
<circle cx="164.36" cy="281.40" r="4.55"/>
<circle cx="231.21" cy="309.10" r="4.55"/>
<circle cx="298.07" cy="340.60" r="4.55"/>
<circle cx="364.93" cy="274.40" r="4.55"/>
<circle cx="431.79" cy="336.70" r="4.55"/>
<circle cx="498.64" cy="319.30" r="4.55"/>
<circle cx="565.50" cy="274.90" r="4.55"/>
</g>
<rect x="74.10" y="270.96" width="514.80" height="73.04" fill="none" stroke="#505050" stroke-width="1.40"/>
<g transform="translate(29.38 283.60)" fill="#000" stroke="#000" stroke-width="0.20" stroke-linejoin="round"><text transform="translate(0.61 0.00) scale(0.9498 0.9996)" font-size="19.61">1</text><text transform="translate(12.23 0.07) scale(0.9945 1.0078)" font-size="19.61">0</text><text transform="translate(24.27 -6.32) scale(1.2155 1.0985)" font-size="13.73">−</text><text transform="translate(34.86 -7.27) scale(0.9586 1.0028)" font-size="13.73">2</text></g>
<g transform="translate(29.12 308.65)" fill="#000" stroke="#000" stroke-width="0.20" stroke-linejoin="round"><text transform="translate(0.61 0.00) scale(0.9498 0.9996)" font-size="19.61">1</text><text transform="translate(12.23 0.07) scale(0.9945 1.0078)" font-size="19.61">0</text><text transform="translate(24.27 -6.32) scale(1.2155 1.0985)" font-size="13.73">−</text><text transform="translate(35.06 -7.23) scale(0.9551 1.0078)" font-size="13.73">3</text></g>
<g transform="translate(28.81 333.70)" fill="#000" stroke="#000" stroke-width="0.20" stroke-linejoin="round"><text transform="translate(0.61 0.00) scale(0.9498 0.9996)" font-size="19.61">1</text><text transform="translate(12.23 0.07) scale(0.9945 1.0078)" font-size="19.61">0</text><text transform="translate(24.27 -6.32) scale(1.2155 1.0985)" font-size="13.73">−</text><text transform="translate(34.89 -7.27) scale(0.9946 0.9996)" font-size="13.73">4</text></g>
<g transform="translate(21.20 325.28) rotate(-90)" fill="#000" stroke="#000" stroke-width="0.20" stroke-linejoin="round"><text transform="translate(-0.02 0.00) scale(0.8600 0.9996)" font-size="19.61" font-style="italic">P</text><text transform="translate(11.78 -1.22) scale(0.7975 0.9019)" font-size="19.61">(</text><text transform="translate(18.28 0.00) scale(0.9737 0.9996)" font-size="19.61" font-style="italic">L</text><text transform="translate(30.07 -1.22) scale(0.7975 0.9019)" font-size="19.61">)</text></g>
<rect x="411.00" y="278.30" width="171.00" height="24.80" rx="2.0" ry="2.0" fill="#fff" fill-opacity="0.8" stroke="#d9d9d9" stroke-width="1.0"/>
<circle cx="430.10" cy="290.80" r="4.55" fill="#157766" stroke="#0e5b4f" stroke-width="0.9"/>
<g transform="translate(454.80 295.70)" fill="#000" stroke="#000" stroke-width="0.15" stroke-linejoin="round"><text transform="translate(-0.76 0.00) scale(1.0292 0.9996)" font-size="14.63" font-style="italic">T</text><text transform="translate(11.67 -0.34) scale(1.2155 0.8262)" font-size="14.63">=</text><text transform="translate(25.79 0.05) scale(0.9385 1.0048)" font-size="14.63">5</text><text transform="translate(34.15 0.05) scale(0.9666 0.9915)" font-size="14.63" font-style="italic">s</text><text transform="translate(40.45 -0.20) scale(1.3752 0.9650)" font-size="14.63">,</text><text transform="translate(50.24 0.06) scale(0.9544 0.9652)" font-size="14.63" font-style="italic">ω</text><text transform="translate(64.72 -0.34) scale(1.2155 0.8262)" font-size="14.63">=</text><text transform="translate(78.78 0.00) scale(0.9498 0.9996)" font-size="14.63">1</text><text transform="translate(87.41 0.05) scale(0.9945 1.0078)" font-size="14.63">0</text><text transform="translate(96.07 -5.32) scale(1.0272 1.0078)" font-size="10.24">9</text><text transform="translate(102.40 0.00) scale(0.9514 0.9996)" font-size="14.63" font-style="italic">H</text><text transform="translate(112.85 0.00) scale(1.0463 0.9765)" font-size="14.63" font-style="italic">z</text></g>
<g stroke="#000"><line x1="77.37" y1="431.60" x2="77.37" y2="428.80" stroke-width="1.00"/><line x1="82.67" y1="431.60" x2="82.67" y2="428.80" stroke-width="1.00"/><line x1="87.14" y1="431.60" x2="87.14" y2="428.80" stroke-width="1.00"/><line x1="91.02" y1="431.60" x2="91.02" y2="428.80" stroke-width="1.00"/><line x1="94.44" y1="431.60" x2="94.44" y2="428.80" stroke-width="1.00"/><line x1="97.50" y1="431.60" x2="97.50" y2="426.70" stroke-width="1.20"/><line x1="117.63" y1="431.60" x2="117.63" y2="428.80" stroke-width="1.00"/><line x1="129.40" y1="431.60" x2="129.40" y2="428.80" stroke-width="1.00"/><line x1="137.75" y1="431.60" x2="137.75" y2="428.80" stroke-width="1.00"/><line x1="144.23" y1="431.60" x2="144.23" y2="428.80" stroke-width="1.00"/><line x1="149.52" y1="431.60" x2="149.52" y2="428.80" stroke-width="1.00"/><line x1="154.00" y1="431.60" x2="154.00" y2="428.80" stroke-width="1.00"/><line x1="157.88" y1="431.60" x2="157.88" y2="428.80" stroke-width="1.00"/><line x1="161.30" y1="431.60" x2="161.30" y2="428.80" stroke-width="1.00"/><line x1="164.36" y1="431.60" x2="164.36" y2="426.70" stroke-width="1.20"/><line x1="184.48" y1="431.60" x2="184.48" y2="428.80" stroke-width="1.00"/><line x1="196.26" y1="431.60" x2="196.26" y2="428.80" stroke-width="1.00"/><line x1="204.61" y1="431.60" x2="204.61" y2="428.80" stroke-width="1.00"/><line x1="211.09" y1="431.60" x2="211.09" y2="428.80" stroke-width="1.00"/><line x1="216.38" y1="431.60" x2="216.38" y2="428.80" stroke-width="1.00"/><line x1="220.86" y1="431.60" x2="220.86" y2="428.80" stroke-width="1.00"/><line x1="224.74" y1="431.60" x2="224.74" y2="428.80" stroke-width="1.00"/><line x1="228.16" y1="431.60" x2="228.16" y2="428.80" stroke-width="1.00"/><line x1="231.21" y1="431.60" x2="231.21" y2="426.70" stroke-width="1.20"/><line x1="251.34" y1="431.60" x2="251.34" y2="428.80" stroke-width="1.00"/><line x1="263.11" y1="431.60" x2="263.11" y2="428.80" stroke-width="1.00"/><line x1="271.47" y1="431.60" x2="271.47" y2="428.80" stroke-width="1.00"/><line x1="277.95" y1="431.60" x2="277.95" y2="428.80" stroke-width="1.00"/><line x1="283.24" y1="431.60" x2="283.24" y2="428.80" stroke-width="1.00"/><line x1="287.72" y1="431.60" x2="287.72" y2="428.80" stroke-width="1.00"/><line x1="291.59" y1="431.60" x2="291.59" y2="428.80" stroke-width="1.00"/><line x1="295.01" y1="431.60" x2="295.01" y2="428.80" stroke-width="1.00"/><line x1="298.07" y1="431.60" x2="298.07" y2="426.70" stroke-width="1.20"/><line x1="318.20" y1="431.60" x2="318.20" y2="428.80" stroke-width="1.00"/><line x1="329.97" y1="431.60" x2="329.97" y2="428.80" stroke-width="1.00"/><line x1="338.32" y1="431.60" x2="338.32" y2="428.80" stroke-width="1.00"/><line x1="344.80" y1="431.60" x2="344.80" y2="428.80" stroke-width="1.00"/><line x1="350.10" y1="431.60" x2="350.10" y2="428.80" stroke-width="1.00"/><line x1="354.57" y1="431.60" x2="354.57" y2="428.80" stroke-width="1.00"/><line x1="358.45" y1="431.60" x2="358.45" y2="428.80" stroke-width="1.00"/><line x1="361.87" y1="431.60" x2="361.87" y2="428.80" stroke-width="1.00"/><line x1="364.93" y1="431.60" x2="364.93" y2="426.70" stroke-width="1.20"/><line x1="385.05" y1="431.60" x2="385.05" y2="428.80" stroke-width="1.00"/><line x1="396.83" y1="431.60" x2="396.83" y2="428.80" stroke-width="1.00"/><line x1="405.18" y1="431.60" x2="405.18" y2="428.80" stroke-width="1.00"/><line x1="411.66" y1="431.60" x2="411.66" y2="428.80" stroke-width="1.00"/><line x1="416.95" y1="431.60" x2="416.95" y2="428.80" stroke-width="1.00"/><line x1="421.43" y1="431.60" x2="421.43" y2="428.80" stroke-width="1.00"/><line x1="425.31" y1="431.60" x2="425.31" y2="428.80" stroke-width="1.00"/><line x1="428.73" y1="431.60" x2="428.73" y2="428.80" stroke-width="1.00"/><line x1="431.79" y1="431.60" x2="431.79" y2="426.70" stroke-width="1.20"/><line x1="451.91" y1="431.60" x2="451.91" y2="428.80" stroke-width="1.00"/><line x1="463.68" y1="431.60" x2="463.68" y2="428.80" stroke-width="1.00"/><line x1="472.04" y1="431.60" x2="472.04" y2="428.80" stroke-width="1.00"/><line x1="478.52" y1="431.60" x2="478.52" y2="428.80" stroke-width="1.00"/><line x1="483.81" y1="431.60" x2="483.81" y2="428.80" stroke-width="1.00"/><line x1="488.29" y1="431.60" x2="488.29" y2="428.80" stroke-width="1.00"/><line x1="492.16" y1="431.60" x2="492.16" y2="428.80" stroke-width="1.00"/><line x1="495.58" y1="431.60" x2="495.58" y2="428.80" stroke-width="1.00"/><line x1="498.64" y1="431.60" x2="498.64" y2="426.70" stroke-width="1.20"/><line x1="518.77" y1="431.60" x2="518.77" y2="428.80" stroke-width="1.00"/><line x1="530.54" y1="431.60" x2="530.54" y2="428.80" stroke-width="1.00"/><line x1="538.89" y1="431.60" x2="538.89" y2="428.80" stroke-width="1.00"/><line x1="545.37" y1="431.60" x2="545.37" y2="428.80" stroke-width="1.00"/><line x1="550.67" y1="431.60" x2="550.67" y2="428.80" stroke-width="1.00"/><line x1="555.14" y1="431.60" x2="555.14" y2="428.80" stroke-width="1.00"/><line x1="559.02" y1="431.60" x2="559.02" y2="428.80" stroke-width="1.00"/><line x1="562.44" y1="431.60" x2="562.44" y2="428.80" stroke-width="1.00"/><line x1="565.50" y1="431.60" x2="565.50" y2="426.70" stroke-width="1.20"/><line x1="585.63" y1="431.60" x2="585.63" y2="428.80" stroke-width="1.00"/><line x1="74.10" y1="368.50" x2="79.00" y2="368.50" stroke-width="1.20"/><line x1="74.10" y1="403.21" x2="79.00" y2="403.21" stroke-width="1.20"/></g>
<g clip-path="url(#c4)" fill="#157766" stroke="#0e5b4f" stroke-width="0.9">
<circle cx="97.50" cy="362.10" r="4.55"/>
<circle cx="164.36" cy="395.10" r="4.55"/>
<circle cx="231.21" cy="370.60" r="4.55"/>
<circle cx="298.07" cy="417.70" r="4.55"/>
<circle cx="364.93" cy="372.20" r="4.55"/>
<circle cx="431.79" cy="427.50" r="4.55"/>
<circle cx="498.64" cy="407.80" r="4.55"/>
<circle cx="565.50" cy="406.70" r="4.55"/>
</g>
<rect x="74.10" y="358.60" width="514.80" height="73.00" fill="none" stroke="#505050" stroke-width="1.40"/>
<g transform="translate(29.28 375.80)" fill="#000" stroke="#000" stroke-width="0.20" stroke-linejoin="round"><text transform="translate(0.61 0.00) scale(0.9498 0.9996)" font-size="19.61">1</text><text transform="translate(12.23 0.07) scale(0.9945 1.0078)" font-size="19.61">0</text><text transform="translate(24.27 -6.32) scale(1.2155 1.0985)" font-size="13.73">−</text><text transform="translate(35.00 -7.27) scale(0.9498 0.9996)" font-size="13.73">1</text></g>
<g transform="translate(28.81 410.51)" fill="#000" stroke="#000" stroke-width="0.20" stroke-linejoin="round"><text transform="translate(0.61 0.00) scale(0.9498 0.9996)" font-size="19.61">1</text><text transform="translate(12.23 0.07) scale(0.9945 1.0078)" font-size="19.61">0</text><text transform="translate(24.27 -6.32) scale(1.2155 1.0985)" font-size="13.73">−</text><text transform="translate(34.89 -7.27) scale(0.9946 0.9996)" font-size="13.73">4</text></g>
<g transform="translate(21.20 412.90) rotate(-90)" fill="#000" stroke="#000" stroke-width="0.20" stroke-linejoin="round"><text transform="translate(-0.02 0.00) scale(0.8600 0.9996)" font-size="19.61" font-style="italic">P</text><text transform="translate(11.78 -1.22) scale(0.7975 0.9019)" font-size="19.61">(</text><text transform="translate(18.28 0.00) scale(0.9737 0.9996)" font-size="19.61" font-style="italic">L</text><text transform="translate(30.07 -1.22) scale(0.7975 0.9019)" font-size="19.61">)</text></g>
<rect x="404.70" y="366.20" width="177.30" height="24.80" rx="2.0" ry="2.0" fill="#fff" fill-opacity="0.8" stroke="#d9d9d9" stroke-width="1.0"/>
<circle cx="423.80" cy="378.70" r="4.55" fill="#157766" stroke="#0e5b4f" stroke-width="0.9"/>
<g transform="translate(448.50 383.60)" fill="#000" stroke="#000" stroke-width="0.15" stroke-linejoin="round"><text transform="translate(-0.76 0.00) scale(1.0292 0.9996)" font-size="14.63" font-style="italic">T</text><text transform="translate(11.67 -0.34) scale(1.2155 0.8262)" font-size="14.63">=</text><text transform="translate(25.79 0.05) scale(0.9385 1.0048)" font-size="14.63">5</text><text transform="translate(34.15 0.05) scale(0.9666 0.9915)" font-size="14.63" font-style="italic">s</text><text transform="translate(40.45 -0.20) scale(1.3752 0.9650)" font-size="14.63">,</text><text transform="translate(50.24 0.06) scale(0.9544 0.9652)" font-size="14.63" font-style="italic">ω</text><text transform="translate(64.72 -0.34) scale(1.2155 0.8262)" font-size="14.63">=</text><text transform="translate(78.78 0.00) scale(0.9498 0.9996)" font-size="14.63">1</text><text transform="translate(87.41 0.05) scale(0.9945 1.0078)" font-size="14.63">0</text><text transform="translate(96.27 -5.36) scale(0.9498 0.9996)" font-size="10.24">1</text><text transform="translate(102.32 -5.32) scale(0.9945 1.0078)" font-size="10.24">0</text><text transform="translate(108.53 0.00) scale(0.9514 0.9996)" font-size="14.63" font-style="italic">H</text><text transform="translate(118.97 0.00) scale(1.0463 0.9765)" font-size="14.63" font-style="italic">z</text></g>
<g stroke="#000"><line x1="77.37" y1="519.30" x2="77.37" y2="516.50" stroke-width="1.00"/><line x1="82.67" y1="519.30" x2="82.67" y2="516.50" stroke-width="1.00"/><line x1="87.14" y1="519.30" x2="87.14" y2="516.50" stroke-width="1.00"/><line x1="91.02" y1="519.30" x2="91.02" y2="516.50" stroke-width="1.00"/><line x1="94.44" y1="519.30" x2="94.44" y2="516.50" stroke-width="1.00"/><line x1="97.50" y1="519.30" x2="97.50" y2="514.40" stroke-width="1.20"/><line x1="117.63" y1="519.30" x2="117.63" y2="516.50" stroke-width="1.00"/><line x1="129.40" y1="519.30" x2="129.40" y2="516.50" stroke-width="1.00"/><line x1="137.75" y1="519.30" x2="137.75" y2="516.50" stroke-width="1.00"/><line x1="144.23" y1="519.30" x2="144.23" y2="516.50" stroke-width="1.00"/><line x1="149.52" y1="519.30" x2="149.52" y2="516.50" stroke-width="1.00"/><line x1="154.00" y1="519.30" x2="154.00" y2="516.50" stroke-width="1.00"/><line x1="157.88" y1="519.30" x2="157.88" y2="516.50" stroke-width="1.00"/><line x1="161.30" y1="519.30" x2="161.30" y2="516.50" stroke-width="1.00"/><line x1="164.36" y1="519.30" x2="164.36" y2="514.40" stroke-width="1.20"/><line x1="184.48" y1="519.30" x2="184.48" y2="516.50" stroke-width="1.00"/><line x1="196.26" y1="519.30" x2="196.26" y2="516.50" stroke-width="1.00"/><line x1="204.61" y1="519.30" x2="204.61" y2="516.50" stroke-width="1.00"/><line x1="211.09" y1="519.30" x2="211.09" y2="516.50" stroke-width="1.00"/><line x1="216.38" y1="519.30" x2="216.38" y2="516.50" stroke-width="1.00"/><line x1="220.86" y1="519.30" x2="220.86" y2="516.50" stroke-width="1.00"/><line x1="224.74" y1="519.30" x2="224.74" y2="516.50" stroke-width="1.00"/><line x1="228.16" y1="519.30" x2="228.16" y2="516.50" stroke-width="1.00"/><line x1="231.21" y1="519.30" x2="231.21" y2="514.40" stroke-width="1.20"/><line x1="251.34" y1="519.30" x2="251.34" y2="516.50" stroke-width="1.00"/><line x1="263.11" y1="519.30" x2="263.11" y2="516.50" stroke-width="1.00"/><line x1="271.47" y1="519.30" x2="271.47" y2="516.50" stroke-width="1.00"/><line x1="277.95" y1="519.30" x2="277.95" y2="516.50" stroke-width="1.00"/><line x1="283.24" y1="519.30" x2="283.24" y2="516.50" stroke-width="1.00"/><line x1="287.72" y1="519.30" x2="287.72" y2="516.50" stroke-width="1.00"/><line x1="291.59" y1="519.30" x2="291.59" y2="516.50" stroke-width="1.00"/><line x1="295.01" y1="519.30" x2="295.01" y2="516.50" stroke-width="1.00"/><line x1="298.07" y1="519.30" x2="298.07" y2="514.40" stroke-width="1.20"/><line x1="318.20" y1="519.30" x2="318.20" y2="516.50" stroke-width="1.00"/><line x1="329.97" y1="519.30" x2="329.97" y2="516.50" stroke-width="1.00"/><line x1="338.32" y1="519.30" x2="338.32" y2="516.50" stroke-width="1.00"/><line x1="344.80" y1="519.30" x2="344.80" y2="516.50" stroke-width="1.00"/><line x1="350.10" y1="519.30" x2="350.10" y2="516.50" stroke-width="1.00"/><line x1="354.57" y1="519.30" x2="354.57" y2="516.50" stroke-width="1.00"/><line x1="358.45" y1="519.30" x2="358.45" y2="516.50" stroke-width="1.00"/><line x1="361.87" y1="519.30" x2="361.87" y2="516.50" stroke-width="1.00"/><line x1="364.93" y1="519.30" x2="364.93" y2="514.40" stroke-width="1.20"/><line x1="385.05" y1="519.30" x2="385.05" y2="516.50" stroke-width="1.00"/><line x1="396.83" y1="519.30" x2="396.83" y2="516.50" stroke-width="1.00"/><line x1="405.18" y1="519.30" x2="405.18" y2="516.50" stroke-width="1.00"/><line x1="411.66" y1="519.30" x2="411.66" y2="516.50" stroke-width="1.00"/><line x1="416.95" y1="519.30" x2="416.95" y2="516.50" stroke-width="1.00"/><line x1="421.43" y1="519.30" x2="421.43" y2="516.50" stroke-width="1.00"/><line x1="425.31" y1="519.30" x2="425.31" y2="516.50" stroke-width="1.00"/><line x1="428.73" y1="519.30" x2="428.73" y2="516.50" stroke-width="1.00"/><line x1="431.79" y1="519.30" x2="431.79" y2="514.40" stroke-width="1.20"/><line x1="451.91" y1="519.30" x2="451.91" y2="516.50" stroke-width="1.00"/><line x1="463.68" y1="519.30" x2="463.68" y2="516.50" stroke-width="1.00"/><line x1="472.04" y1="519.30" x2="472.04" y2="516.50" stroke-width="1.00"/><line x1="478.52" y1="519.30" x2="478.52" y2="516.50" stroke-width="1.00"/><line x1="483.81" y1="519.30" x2="483.81" y2="516.50" stroke-width="1.00"/><line x1="488.29" y1="519.30" x2="488.29" y2="516.50" stroke-width="1.00"/><line x1="492.16" y1="519.30" x2="492.16" y2="516.50" stroke-width="1.00"/><line x1="495.58" y1="519.30" x2="495.58" y2="516.50" stroke-width="1.00"/><line x1="498.64" y1="519.30" x2="498.64" y2="514.40" stroke-width="1.20"/><line x1="518.77" y1="519.30" x2="518.77" y2="516.50" stroke-width="1.00"/><line x1="530.54" y1="519.30" x2="530.54" y2="516.50" stroke-width="1.00"/><line x1="538.89" y1="519.30" x2="538.89" y2="516.50" stroke-width="1.00"/><line x1="545.37" y1="519.30" x2="545.37" y2="516.50" stroke-width="1.00"/><line x1="550.67" y1="519.30" x2="550.67" y2="516.50" stroke-width="1.00"/><line x1="555.14" y1="519.30" x2="555.14" y2="516.50" stroke-width="1.00"/><line x1="559.02" y1="519.30" x2="559.02" y2="516.50" stroke-width="1.00"/><line x1="562.44" y1="519.30" x2="562.44" y2="516.50" stroke-width="1.00"/><line x1="565.50" y1="519.30" x2="565.50" y2="514.40" stroke-width="1.20"/><line x1="585.63" y1="519.30" x2="585.63" y2="516.50" stroke-width="1.00"/><line x1="74.10" y1="450.50" x2="79.00" y2="450.50" stroke-width="1.20"/><line x1="74.10" y1="489.59" x2="79.00" y2="489.59" stroke-width="1.20"/></g>
<g clip-path="url(#c5)" fill="#157766" stroke="#0e5b4f" stroke-width="0.9">
<circle cx="97.50" cy="450.20" r="4.55"/>
<circle cx="164.36" cy="489.00" r="4.55"/>
<circle cx="231.21" cy="516.10" r="4.55"/>
<circle cx="298.07" cy="504.90" r="4.55"/>
<circle cx="364.93" cy="503.00" r="4.55"/>
<circle cx="431.79" cy="502.50" r="4.55"/>
<circle cx="498.64" cy="494.20" r="4.55"/>
<circle cx="565.50" cy="492.80" r="4.55"/>
</g>
<rect x="74.10" y="446.50" width="514.80" height="72.80" fill="none" stroke="#505050" stroke-width="1.40"/>
<g transform="translate(29.28 457.80)" fill="#000" stroke="#000" stroke-width="0.20" stroke-linejoin="round"><text transform="translate(0.61 0.00) scale(0.9498 0.9996)" font-size="19.61">1</text><text transform="translate(12.23 0.07) scale(0.9945 1.0078)" font-size="19.61">0</text><text transform="translate(24.27 -6.32) scale(1.2155 1.0985)" font-size="13.73">−</text><text transform="translate(35.00 -7.27) scale(0.9498 0.9996)" font-size="13.73">1</text></g>
<g transform="translate(28.81 496.89)" fill="#000" stroke="#000" stroke-width="0.20" stroke-linejoin="round"><text transform="translate(0.61 0.00) scale(0.9498 0.9996)" font-size="19.61">1</text><text transform="translate(12.23 0.07) scale(0.9945 1.0078)" font-size="19.61">0</text><text transform="translate(24.27 -6.32) scale(1.2155 1.0985)" font-size="13.73">−</text><text transform="translate(34.89 -7.27) scale(0.9946 0.9996)" font-size="13.73">4</text></g>
<g transform="translate(21.20 500.70) rotate(-90)" fill="#000" stroke="#000" stroke-width="0.20" stroke-linejoin="round"><text transform="translate(-0.02 0.00) scale(0.8600 0.9996)" font-size="19.61" font-style="italic">P</text><text transform="translate(11.78 -1.22) scale(0.7975 0.9019)" font-size="19.61">(</text><text transform="translate(18.28 0.00) scale(0.9737 0.9996)" font-size="19.61" font-style="italic">L</text><text transform="translate(30.07 -1.22) scale(0.7975 0.9019)" font-size="19.61">)</text></g>
<rect x="404.70" y="453.60" width="177.30" height="24.80" rx="2.0" ry="2.0" fill="#fff" fill-opacity="0.8" stroke="#d9d9d9" stroke-width="1.0"/>
<circle cx="423.80" cy="466.10" r="4.55" fill="#157766" stroke="#0e5b4f" stroke-width="0.9"/>
<g transform="translate(448.50 471.00)" fill="#000" stroke="#000" stroke-width="0.15" stroke-linejoin="round"><text transform="translate(-0.76 0.00) scale(1.0292 0.9996)" font-size="14.63" font-style="italic">T</text><text transform="translate(11.67 -0.34) scale(1.2155 0.8262)" font-size="14.63">=</text><text transform="translate(25.79 0.05) scale(0.9385 1.0048)" font-size="14.63">5</text><text transform="translate(34.15 0.05) scale(0.9666 0.9915)" font-size="14.63" font-style="italic">s</text><text transform="translate(40.45 -0.20) scale(1.3752 0.9650)" font-size="14.63">,</text><text transform="translate(50.24 0.06) scale(0.9544 0.9652)" font-size="14.63" font-style="italic">ω</text><text transform="translate(64.72 -0.34) scale(1.2155 0.8262)" font-size="14.63">=</text><text transform="translate(78.78 0.00) scale(0.9498 0.9996)" font-size="14.63">1</text><text transform="translate(87.41 0.05) scale(0.9945 1.0078)" font-size="14.63">0</text><text transform="translate(96.27 -5.36) scale(0.9498 0.9996)" font-size="10.24">1</text><text transform="translate(102.40 -5.36) scale(0.9498 0.9996)" font-size="10.24">1</text><text transform="translate(108.53 0.00) scale(0.9514 0.9996)" font-size="14.63" font-style="italic">H</text><text transform="translate(118.97 0.00) scale(1.0463 0.9765)" font-size="14.63" font-style="italic">z</text></g>
<g transform="translate(81.85 536.40)" fill="#000" stroke="#000" stroke-width="0.20" stroke-linejoin="round"><text transform="translate(0.61 0.00) scale(0.9498 0.9996)" font-size="19.61">1</text><text transform="translate(12.23 0.07) scale(0.9945 1.0078)" font-size="19.61">0</text><text transform="translate(24.01 -7.27) scale(0.9586 1.0028)" font-size="13.73">2</text></g>
<g transform="translate(148.58 536.40)" fill="#000" stroke="#000" stroke-width="0.20" stroke-linejoin="round"><text transform="translate(0.61 0.00) scale(0.9498 0.9996)" font-size="19.61">1</text><text transform="translate(12.23 0.07) scale(0.9945 1.0078)" font-size="19.61">0</text><text transform="translate(24.21 -7.23) scale(0.9551 1.0078)" font-size="13.73">3</text></g>
<g transform="translate(215.28 536.40)" fill="#000" stroke="#000" stroke-width="0.20" stroke-linejoin="round"><text transform="translate(0.61 0.00) scale(0.9498 0.9996)" font-size="19.61">1</text><text transform="translate(12.23 0.07) scale(0.9945 1.0078)" font-size="19.61">0</text><text transform="translate(24.04 -7.27) scale(0.9946 0.9996)" font-size="13.73">4</text></g>
<g transform="translate(282.34 536.40)" fill="#000" stroke="#000" stroke-width="0.20" stroke-linejoin="round"><text transform="translate(0.61 0.00) scale(0.9498 0.9996)" font-size="19.61">1</text><text transform="translate(12.23 0.07) scale(0.9945 1.0078)" font-size="19.61">0</text><text transform="translate(24.21 -7.22) scale(0.9385 1.0048)" font-size="13.73">5</text></g>
<g transform="translate(349.04 536.40)" fill="#000" stroke="#000" stroke-width="0.20" stroke-linejoin="round"><text transform="translate(0.61 0.00) scale(0.9498 0.9996)" font-size="19.61">1</text><text transform="translate(12.23 0.07) scale(0.9945 1.0078)" font-size="19.61">0</text><text transform="translate(23.91 -7.23) scale(1.0293 1.0078)" font-size="13.73">6</text></g>
<g transform="translate(416.04 536.40)" fill="#000" stroke="#000" stroke-width="0.20" stroke-linejoin="round"><text transform="translate(0.61 0.00) scale(0.9498 0.9996)" font-size="19.61">1</text><text transform="translate(12.23 0.07) scale(0.9945 1.0078)" font-size="19.61">0</text><text transform="translate(24.10 -7.27) scale(0.9728 0.9996)" font-size="13.73">7</text></g>
<g transform="translate(482.79 536.40)" fill="#000" stroke="#000" stroke-width="0.20" stroke-linejoin="round"><text transform="translate(0.61 0.00) scale(0.9498 0.9996)" font-size="19.61">1</text><text transform="translate(12.23 0.07) scale(0.9945 1.0078)" font-size="19.61">0</text><text transform="translate(24.00 -7.23) scale(1.0052 1.0078)" font-size="13.73">8</text></g>
<g transform="translate(549.66 536.40)" fill="#000" stroke="#000" stroke-width="0.20" stroke-linejoin="round"><text transform="translate(0.61 0.00) scale(0.9498 0.9996)" font-size="19.61">1</text><text transform="translate(12.23 0.07) scale(0.9945 1.0078)" font-size="19.61">0</text><text transform="translate(23.88 -7.23) scale(1.0272 1.0078)" font-size="13.73">9</text></g>
<g transform="translate(293.53 558.70)" fill="#000" stroke="#000" stroke-width="0.20" stroke-linejoin="round"><text transform="translate(0.00 0.00) scale(0.8186 0.9996)" font-size="19.61" font-style="italic">R</text><text transform="translate(12.89 2.98) scale(1.2676 1.0094)" font-size="13.73" font-style="italic">t</text><text transform="translate(18.08 3.17) scale(0.9977 0.9897)" font-size="13.73" font-style="italic">o</text><text transform="translate(25.89 2.98) scale(1.2676 1.0094)" font-size="13.73" font-style="italic">t</text><text transform="translate(34.67 -1.23) scale(0.9828 0.9024)" font-size="19.61">[</text><text transform="translate(41.99 0.00) scale(1.0355 0.9892)" font-size="19.61" font-style="italic">k</text><text transform="translate(52.69 0.00) scale(1.0666 0.9828)" font-size="19.61" font-style="italic">m</text><text transform="translate(72.05 -1.23) scale(0.9828 0.9024)" font-size="19.61">]</text></g>
</g>
</svg>
</body></html>
